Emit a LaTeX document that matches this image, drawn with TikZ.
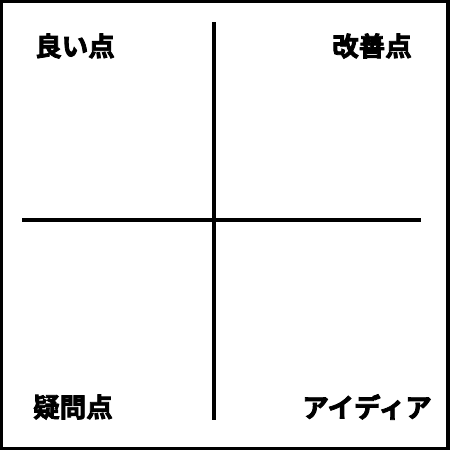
\documentclass[tikz,border=0pt]{standalone}
\usepackage{fontspec}
\newfontfamily\jpfont{Noto Sans CJK JP}[BoldFont={Noto Sans CJK JP Bold},BoldFeatures={FakeBold=3}]
\tikzset{
  axisline/.style={line width=3.5pt,black},
  quadlabel/.style={font=\jpfont\bfseries\fontsize{26.5}{26.5}\selectfont,inner sep=0pt}
}
\begin{document}
\begin{tikzpicture}[x=1pt,y=-1pt]
	\useasboundingbox (0,0) rectangle (450,450);
	\fill[white] (0,0) rectangle (450,450);
	\draw[line width=3.5pt] (1.5,1.2) rectangle (448,448.5);% outer frame
    		\coordinate (Left)   at (22,220);
    		\coordinate (Right)  at (421,220);
    		\coordinate (Top)    at (214,22);
    		\coordinate (Bottom) at (214,420);
    		\draw [axisline] (Left) -- (Right);% horizontal axis
    		\draw [axisline] (Top) -- (Bottom);% vertical axis

		\node[quadlabel] (good)  at (75,46)  {良い点};
		\node[quadlabel] (improve) at (372,46) {改善点};
		\node[quadlabel] (doubt) at (73,407) {疑問点};
		\node[quadlabel] (idea)  at (367,407) {アイディア};
	\end{tikzpicture}
\end{document}
